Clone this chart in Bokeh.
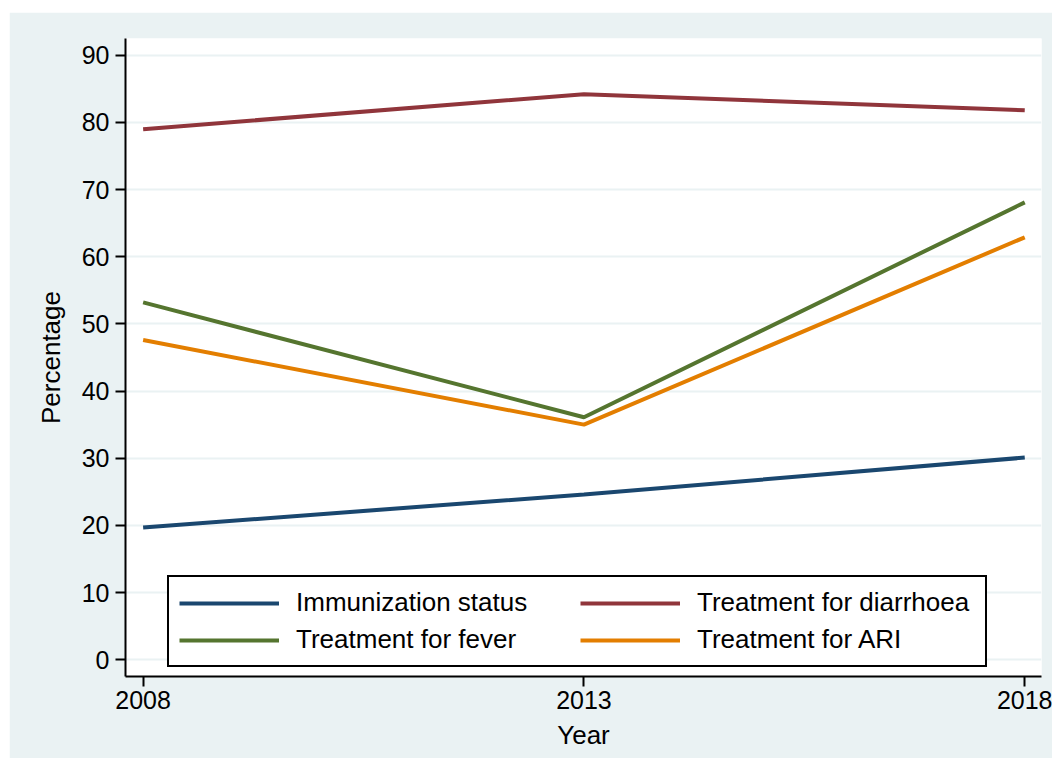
from bokeh.plotting import figure
from bokeh.models import Range1d, FixedTicker, Legend, LegendItem
from bokeh.embed import file_html
from bokeh.resources import INLINE

years = [2008, 2013, 2018]
immunization = [19.7, 24.6, 30.1]
diarrhoea = [79.0, 84.2, 81.8]
fever = [53.2, 36.1, 68.1]
ari = [47.6, 35.0, 62.9]

series_names = ["Immunization status", "Treatment for diarrhoea", "Treatment for fever", "Treatment for ARI"]
series_colors = ["#1A476F", "#90353B", "#55752F", "#E37E00"]
y_ticks = [0, 10, 20, 30, 40, 50, 60, 70, 80, 90]

FONT = "Liberation Sans"
BG = "#EAF2F3"

p = figure(width=1043, height=746, output_backend="svg", toolbar_location=None,
           x_range=Range1d(2007.8, 2018.19), y_range=Range1d(-2.5, 92.5),
           min_border_left=116, min_border_right=11, min_border_top=26, min_border_bottom=82)
p.margin = (12, 0, 0, 9)
p.border_fill_color = BG
p.background_fill_color = "white"
p.outline_line_color = None

rmap = {}
for name, vals, col in zip(series_names, [immunization, diarrhoea, fever, ari], series_colors):
    rmap[name] = p.line(years, vals, line_color=col, line_width=4)

# axes
p.xaxis.ticker = FixedTicker(ticks=years)
p.yaxis.ticker = FixedTicker(ticks=y_ticks)
for ax in (p.xaxis[0], p.yaxis[0]):
    ax.axis_line_color = "black"
    ax.axis_line_width = 2
    ax.major_tick_line_color = "black"
    ax.major_tick_line_width = 2
    ax.major_tick_out = 10
    ax.major_tick_in = 0
    ax.minor_tick_line_color = None
    ax.major_label_text_font = FONT
    ax.major_label_text_font_size = "25px"
    ax.major_label_text_color = "black"
    ax.axis_label_text_font = FONT
    ax.axis_label_text_font_size = "26px"
    ax.axis_label_text_font_style = "normal"
    ax.axis_label_text_color = "black"
p.xaxis.axis_label = "Year"
p.yaxis.axis_label = "Percentage"
p.yaxis.major_label_standoff = 6
p.xaxis.major_label_standoff = 4
p.yaxis.axis_label_standoff = 13
p.xaxis.axis_label_standoff = 8
p.yaxis.major_label_orientation = "horizontal"

p.xgrid.grid_line_color = None
p.ygrid.grid_line_color = BG
p.ygrid.grid_line_width = 2

# legend fills column-wise: col 1 = Immunization, Fever; col 2 = Diarrhoea, ARI
legend_order = ["Immunization status", "Treatment for fever", "Treatment for diarrhoea", "Treatment for ARI"]
items = [LegendItem(label=n, renderers=[rmap[n]]) for n in legend_order]
legend = Legend(items=items, location=(42, 9), ncols=2)
legend.glyph_width = 100
legend.glyph_height = 30
legend.label_height = 30
legend.label_width = 278
legend.label_standoff = 17
legend.spacing = 6
legend.padding = 10
legend.margin = 0
legend.label_text_font = FONT
legend.label_text_font_size = "26px"
legend.label_text_color = "black"
legend.border_line_color = "black"
legend.border_line_alpha = 1
legend.border_line_width = 2
legend.background_fill_color = "white"
legend.background_fill_alpha = 1
p.add_layout(legend, "center")

open("out.html", "w").write(file_html(p, INLINE))
